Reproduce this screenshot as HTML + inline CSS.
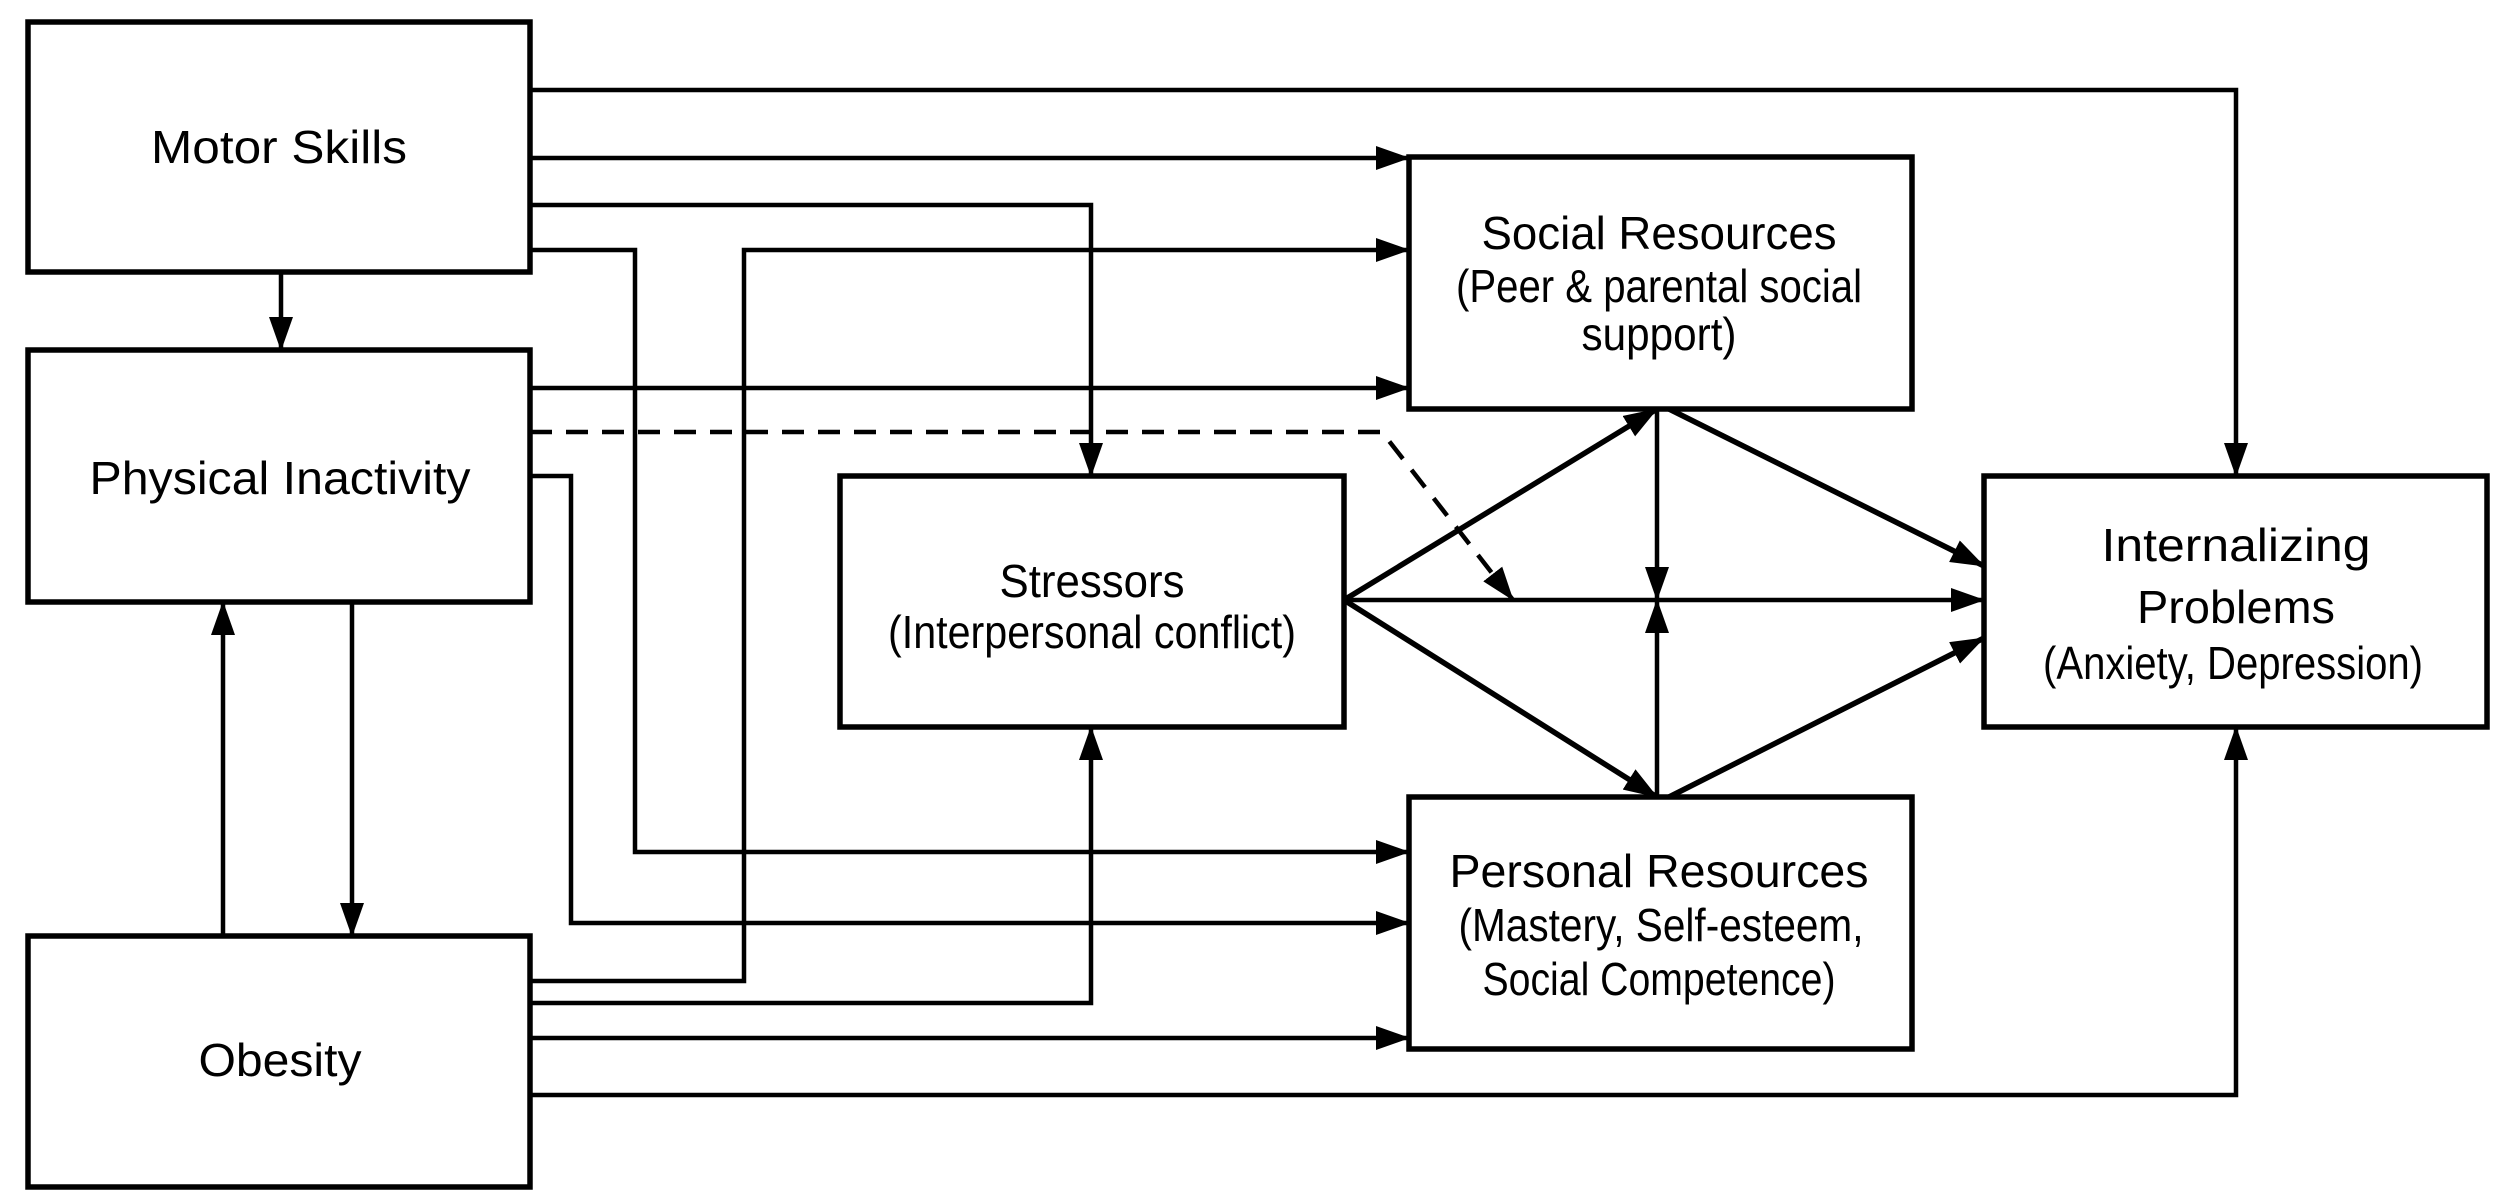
<!DOCTYPE html>
<html><head><meta charset="utf-8"><style>
html,body{margin:0;padding:0;background:#fff;}
svg{display:block;}
text{font-family:"Liberation Sans",sans-serif;font-size:46px;fill:#000;}
</style></head><body>
<svg width="2500" height="1204" viewBox="0 0 2500 1204" xmlns="http://www.w3.org/2000/svg">
<defs>
<marker id="a" markerUnits="userSpaceOnUse" markerWidth="34" markerHeight="24" refX="33" refY="12" orient="auto">
<path d="M0,0 L34,12 L0,24 z" fill="#000"/>
</marker>
</defs>
<g fill="#fff" stroke="#000" stroke-width="5.5">
<rect x="28" y="22" width="502" height="250"/>
<rect x="28" y="350" width="502" height="252"/>
<rect x="28" y="936" width="502" height="251"/>
<rect x="840" y="476" width="504" height="251"/>
<rect x="1409" y="157" width="503" height="252"/>
<rect x="1409" y="797" width="503" height="252"/>
<rect x="1984" y="476" width="503" height="251"/>
</g>
<g fill="none" stroke="#000" stroke-width="4.5" marker-end="url(#a)">
<polyline points="530,90 2236,90 2236,476"/>
<polyline points="530,158 1409,158"/>
<polyline points="530,205 1091,205 1091,476"/>
<polyline points="530,250 635,250 635,852 1409,852"/>
<polyline points="281,272 281,350"/>
<polyline points="530,388 1409,388"/>
<polyline points="530,476 571,476 571,923 1409,923"/>
<polyline points="352,602 352,936"/>
<polyline points="223,936 223,602"/>
<polyline points="530,981 744,981 744,250 1409,250"/>
<polyline points="530,1003 1091,1003 1091,727"/>
<polyline points="530,1038 1409,1038"/>
<polyline points="530,1095 2236,1095 2236,727"/>
<polyline points="1344,600 1984,600"/>
<polyline points="1344,600 1657,409" stroke-width="5.5"/>
<polyline points="1344,600 1657,797" stroke-width="5.5"/>
<polyline points="1657,409 1657,600"/>
<polyline points="1657,797 1657,600"/>
<polyline points="1669,409 1984,566" stroke-width="5.5"/>
<polyline points="1669,797 1984,638" stroke-width="5.5"/>
<polyline points="530,432 1382,432 1513,600" stroke-dasharray="22,14"/>
</g>
<g text-anchor="middle">
<text x="279" y="163" textLength="256" lengthAdjust="spacingAndGlyphs">Motor Skills</text>
<text x="280" y="494" textLength="381" lengthAdjust="spacingAndGlyphs">Physical Inactivity</text>
<text x="280" y="1076" textLength="163" lengthAdjust="spacingAndGlyphs">Obesity</text>
<text x="1092" y="597" textLength="185" lengthAdjust="spacingAndGlyphs">Stressors</text>
<text x="1092" y="648" textLength="408" lengthAdjust="spacingAndGlyphs">(Interpersonal conflict)</text>
<text x="1659" y="249" textLength="355" lengthAdjust="spacingAndGlyphs">Social Resources</text>
<text x="1659" y="302" textLength="406" lengthAdjust="spacingAndGlyphs">(Peer &amp; parental social</text>
<text x="1659" y="350" textLength="155" lengthAdjust="spacingAndGlyphs">support)</text>
<text x="2236" y="561" textLength="269" lengthAdjust="spacingAndGlyphs">Internalizing</text>
<text x="2236" y="623" textLength="198" lengthAdjust="spacingAndGlyphs">Problems</text>
<text x="2233" y="679" textLength="380" lengthAdjust="spacingAndGlyphs">(Anxiety, Depression)</text>
<text x="1659" y="887" textLength="419" lengthAdjust="spacingAndGlyphs">Personal Resources</text>
<text x="1661" y="941" textLength="405" lengthAdjust="spacingAndGlyphs">(Mastery, Self-esteem,</text>
<text x="1659" y="995" textLength="353" lengthAdjust="spacingAndGlyphs">Social Competence)</text>
</g>
</svg>
</body></html>
